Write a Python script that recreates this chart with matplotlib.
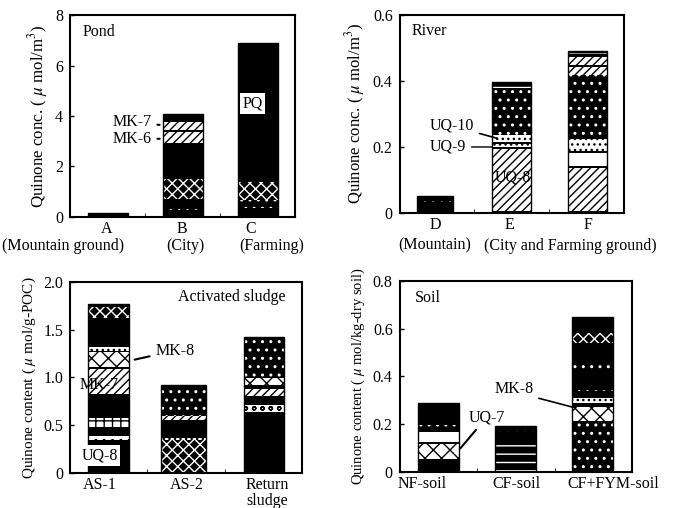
import matplotlib.pyplot as plt
import numpy as np

plt.rcParams['font.family'] = ['Liberation Serif', 'DejaVu Serif']
plt.rcParams['mathtext.fontset'] = 'stix'
plt.rcParams['hatch.linewidth'] = 1.0

# ---- data: segment heights per bar (bottom -> top) ----
pond_cats = ['A', 'B', 'C']
pond_sub = ['(Mountain ground)', '(City)', '(Farming)']
pond_A = [0.15]
pond_B = [0.13, 0.20, 0.22, 0.07, 0.11, 0.79, 1.43, 0.42, 0.07, 0.33, 0.33]
pond_C = [0.28, 0.08, 0.30, 0.73, 5.16, 0.10, 0.25]

river_cats = ['D', 'E', 'F']
river_sub = ['(Mountain)', '(City and Farming ground)']
river_D = [0.010, 0.015, 0.010, 0.016]
river_E = [0.005, 0.190, 0.005, 0.010, 0.005, 0.020, 0.143, 0.007, 0.013]
river_F = [0.005, 0.132, 0.005, 0.040, 0.006, 0.036, 0.194, 0.026, 0.005,
           0.025, 0.008, 0.005, 0.005]

sludge_cats = ['AS-1', 'AS-2', 'Return\nsludge']
sludge_AS1 = [0.34, 0.05, 0.09, 0.10, 0.25, 0.26, 0.02, 0.16, 0.01, 0.04,
              0.30, 0.12, 0.026]
sludge_AS2 = [0.34, 0.03, 0.18, 0.05, 0.316]
sludge_RS = [0.59, 0.01, 0.04, 0.07, 0.10, 0.07, 0.04, 0.07, 0.43]

soil_cats = ['NF-soil', 'CF-soil', 'CF+FYM-soil']
soil_NF = [0.056, 0.062, 0.007, 0.042, 0.013, 0.015, 0.093]
soil_CF = [0.130, 0.037, 0.021, 0.004]
soil_FYM = [0.215, 0.055, 0.020, 0.020, 0.030, 0.015, 0.075, 0.030, 0.080,
            0.040, 0.070]

# ---- pattern codes per segment (same order as data) ----
pond_A_pat = ['K']
pond_B_pat = ['K', 'KD', 'K', 'KL', 'K', 'KX', 'K', 'WD', 'K', 'WD', 'K']
pond_C_pat = ['K', 'KL', 'KD', 'KX', 'K', 'KL', 'K']
river_D_pat = ['KD', 'K', 'KD', 'K']
river_E_pat = ['K', 'WD', 'K', 'WO', 'K', 'WO', 'KD', 'KL', 'K']
river_F_pat = ['K', 'WD', 'K', 'WP', 'K', 'WO', 'KD', 'WD', 'K', 'WD', 'K', 'KL', 'K']
sludge_AS1_pat = ['K', 'WC', 'K', 'WG', 'K', 'WD', 'K', 'WX', 'K', 'WO', 'K', 'KX', 'K']
sludge_AS2_pat = ['KX', 'WO', 'K', 'WD', 'KD']
sludge_RS_pat = ['K', 'KL', 'K', 'WC', 'K', 'WD', 'K', 'WX', 'KD']
soil_NF_pat = ['K', 'WX', 'K', 'WP', 'K', 'KD', 'K']
soil_CF_pat = ['KL', 'K', 'KD', 'K']
soil_FYM_pat = ['KD', 'WX', 'K', 'WO', 'K', 'KD', 'K', 'KD', 'K', 'KX', 'K']

STYLES = {
    'K': dict(facecolor='black', edgecolor='black', hatch=None),
    'KD': dict(facecolor='black', edgecolor='white', hatch='..'),
    'KL': dict(facecolor='black', edgecolor='white', hatch='--'),
    'KX': dict(facecolor='black', edgecolor='white', hatch='xxx'),
    'WD': dict(facecolor='white', edgecolor='black', hatch='////'),
    'WO': dict(facecolor='white', edgecolor='black', hatch='...'),
    'WP': dict(facecolor='white', edgecolor='black', hatch=None),
    'WX': dict(facecolor='white', edgecolor='black', hatch='xx'),
    'WG': dict(facecolor='white', edgecolor='black', hatch='++'),
    'WC': dict(facecolor='white', edgecolor='black', hatch='oo'),
}

FS = 11.5


def stack(ax, x, width, segs, pats):
    bottom = 0.0
    for h, p in zip(segs, pats):
        st = STYLES[p]
        ax.bar(x, h, width, bottom=bottom, facecolor=st['facecolor'],
               edgecolor=st['edgecolor'], hatch=st['hatch'], linewidth=0)
        bottom += h
    ax.bar(x, bottom, width, fill=False, edgecolor='black', linewidth=1)


def frame(ax, ymax, yticks, yticklabels, ylabel, ylsize):
    ax.set_xlim(0, 3)
    ax.set_ylim(0, ymax)
    ax.set_yticks(yticks)
    ax.set_yticklabels(yticklabels, fontsize=11.5)
    ax.set_xticks([1, 2], minor=True)
    ax.tick_params(axis='y', direction='in', length=3, width=1, pad=5)
    ax.tick_params(axis='x', which='major', length=0, pad=3)
    ax.tick_params(axis='x', which='minor', direction='in', length=3)
    ax.set_ylabel(ylabel, fontsize=ylsize, labelpad=4)
    for s in ax.spines.values():
        s.set_linewidth(1.5)


fig = plt.figure(figsize=(6.74, 5.08), dpi=100)

# ---- Pond ----
ax1 = fig.add_axes([0.104, 0.573, 0.334, 0.397])
stack(ax1, 0.5, 0.53, pond_A, pond_A_pat)
stack(ax1, 1.5, 0.53, pond_B, pond_B_pat)
stack(ax1, 2.5, 0.53, pond_C, pond_C_pat)
frame(ax1, 8, [0, 2, 4, 6, 8], ['0', '2', '4', '6', '8'],
      'Quinone conc. ( $\\mu$ mol/m$^3$)', 12.2)
ax1.set_xticks([0.49, 1.49, 2.40])
ax1.set_xticklabels(pond_cats, fontsize=FS)
for xs, s in zip([-0.09, 1.53, 2.69], pond_sub):
    ax1.text(xs, -1.17, s, fontsize=FS, ha='center', va='center')
ax1.text(0.16, 7.35, 'Pond', fontsize=FS, va='center')
ax1.annotate('MK-7', xy=(1.23, 3.64), xytext=(1.09, 3.75), fontsize=FS,
             ha='right', va='center',
             arrowprops=dict(arrowstyle='-', color='black', lw=1.5))
ax1.annotate('MK-6', xy=(1.23, 3.1), xytext=(1.09, 3.1), fontsize=FS,
             ha='right', va='center',
             arrowprops=dict(arrowstyle='-', color='black', lw=1.5))
ax1.text(2.43, 4.5, 'PQ', fontsize=FS, ha='center', va='center',
         bbox=dict(facecolor='white', edgecolor='none', pad=1.5))

# ---- River ----
ax2 = fig.add_axes([0.593, 0.581, 0.333, 0.389])
stack(ax2, 0.47, 0.48, river_D, river_D_pat)
stack(ax2, 1.50, 0.52, river_E, river_E_pat)
stack(ax2, 2.51, 0.52, river_F, river_F_pat)
frame(ax2, 0.6, [0, 0.2, 0.4, 0.6], ['0', '0.2', '0.4', '0.6'],
      'Quinone conc. ( $\\mu$ mol/m$^3$)', 12)
ax2.set_xticks([0.47, 1.47, 2.52])
ax2.set_xticklabels(river_cats, fontsize=FS)
for xs, s in zip([0.47, 2.28], river_sub):
    ax2.text(xs, -0.1, s, fontsize=FS, ha='center', va='center')
ax2.text(0.16, 0.553, 'River', fontsize=FS, va='center')
ax2.annotate('UQ-10', xy=(1.34, 0.224), xytext=(0.40, 0.264), fontsize=FS,
             ha='left', va='center',
             arrowprops=dict(arrowstyle='-', color='black', lw=1.2))
ax2.annotate('UQ-9', xy=(1.27, 0.200), xytext=(0.40, 0.200), fontsize=FS,
             ha='left', va='center',
             arrowprops=dict(arrowstyle='-', color='black', lw=1.0))
ax2.text(1.52, 0.106, 'UQ-8', fontsize=FS, ha='center', va='center')

# ---- Activated sludge ----
ax3 = fig.add_axes([0.104, 0.069, 0.344, 0.376])
stack(ax3, 0.50, 0.53, sludge_AS1, sludge_AS1_pat)
stack(ax3, 1.47, 0.58, sludge_AS2, sludge_AS2_pat)
stack(ax3, 2.51, 0.52, sludge_RS, sludge_RS_pat)
frame(ax3, 2.0, [0, 0.5, 1.0, 1.5, 2.0], ['0', '0.5', '1.0', '1.5', '2.0'],
      'Quinone content ( $\\mu$ mol/g-POC)', 11)
ax3.set_xticks([0.39, 1.51, 2.55])
ax3.set_xticklabels(sludge_cats, fontsize=FS, linespacing=0.95, va='top')
ax3.text(2.09, 1.84, 'Activated sludge', fontsize=FS, ha='center', va='center')
ax3.annotate('MK-8', xy=(0.80, 1.18), xytext=(1.10, 1.28), fontsize=FS,
             ha='left', va='center',
             arrowprops=dict(arrowstyle='-', color='black', lw=1.5))
ax3.text(0.37, 0.92, 'MK-7', fontsize=FS, ha='center', va='center')
ax3.text(0.38, 0.18, 'UQ-8', fontsize=FS, ha='center', va='center',
         bbox=dict(facecolor='white', edgecolor='none', pad=2))

# ---- Soil ----
ax4 = fig.add_axes([0.593, 0.071, 0.345, 0.376])
stack(ax4, 0.50, 0.53, soil_NF, soil_NF_pat)
stack(ax4, 1.50, 0.53, soil_CF, soil_CF_pat)
stack(ax4, 2.49, 0.53, soil_FYM, soil_FYM_pat)
frame(ax4, 0.8, [0, 0.2, 0.4, 0.6, 0.8], ['0', '0.2', '0.4', '0.6', '0.8'],
      'Quinone content ( $\\mu$ mol/kg-dry soil)', 10.5)
ax4.set_xticks([0.29, 1.51, 2.76])
ax4.set_xticklabels(soil_cats, fontsize=FS)
ax4.text(0.19, 0.73, 'Soil', fontsize=FS, va='center')
ax4.annotate('UQ-7', xy=(0.76, 0.09), xytext=(0.89, 0.23), fontsize=FS,
             ha='left', va='center',
             arrowprops=dict(arrowstyle='-', color='black', lw=1.5))
ax4.annotate('MK-8', xy=(2.27, 0.268), xytext=(1.22, 0.348), fontsize=FS,
             ha='left', va='center',
             arrowprops=dict(arrowstyle='-', color='black', lw=1.2,
                             relpos=(1.0, 0.0)))

fig.savefig('out.png', dpi=100)
